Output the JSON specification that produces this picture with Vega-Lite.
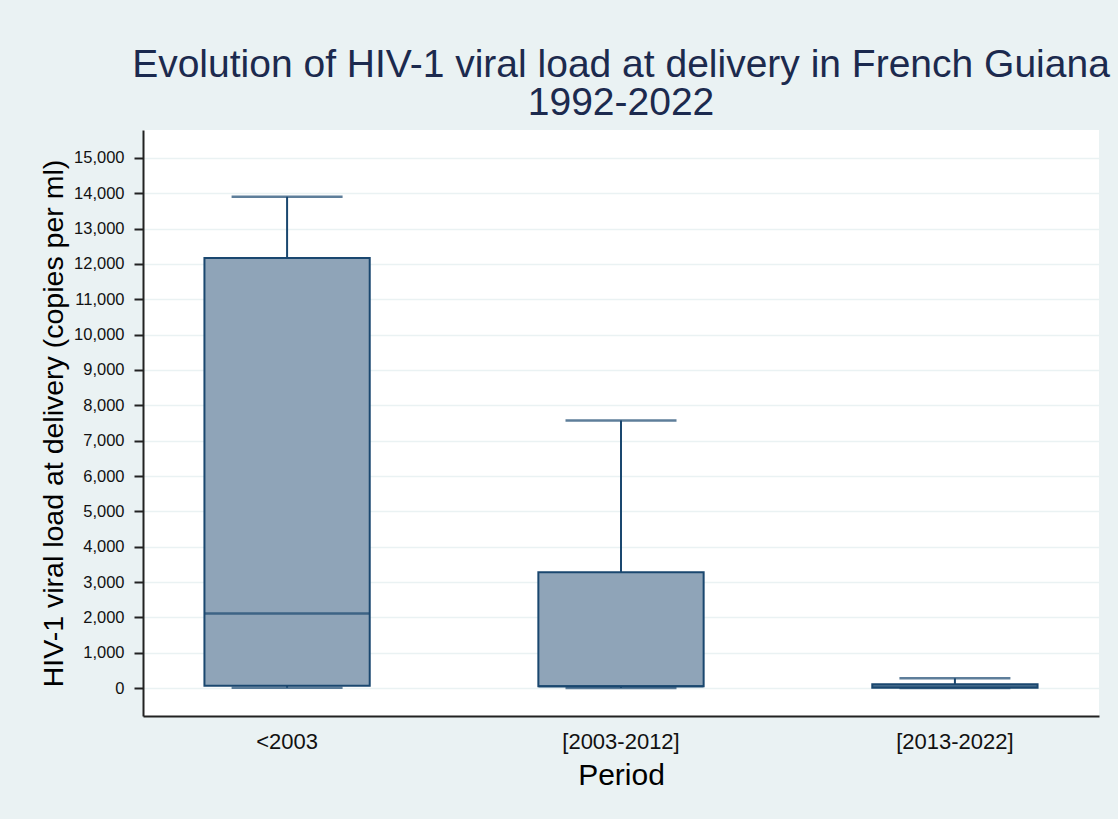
{
  "$schema": "https://vega.github.io/schema/vega-lite/v6.json",
  "width": 956,
  "height": 586,
  "autosize": {"type": "none"},
  "padding": {"left": 143, "top": 130, "right": 19, "bottom": 103},
  "background": "#EAF2F3",
  "config": {
    "view": {"fill": "white", "stroke": null},
    "font": "Liberation Sans",
    "axisY": {
      "values": [0, 1000, 2000, 3000, 4000, 5000, 6000, 7000, 8000, 9000, 10000, 11000, 12000, 13000, 14000, 15000],
      "labelFontSize": 16.5,
      "labelColor": "#111111",
      "tickSize": 9,
      "tickColor": "#222222",
      "tickWidth": 2,
      "domainColor": "#222222",
      "domainWidth": 2,
      "gridColor": "#EAF2F3",
      "gridWidth": 1.5,
      "labelPadding": 10,
      "titleFontSize": 28.5,
      "titleFontWeight": "normal",
      "titleColor": "#000000",
      "titlePadding": 5
    },
    "axisX": {
      "labelAngle": 0,
      "labelFontSize": 22,
      "labelColor": "#111111",
      "ticks": false,
      "labelPadding": 15,
      "domainColor": "#222222",
      "domainWidth": 2,
      "grid": false,
      "titleFontSize": 30,
      "titleFontWeight": "normal",
      "titleColor": "#000000",
      "titlePadding": 8
    }
  },
  "title": {
    "text": ["Evolution of HIV-1 viral load at delivery in French Guiana", "1992-2022"],
    "fontSize": 39,
    "fontWeight": "normal",
    "color": "#1c2a4e",
    "anchor": "middle",
    "offset": 7,
    "lineHeight": 38
  },
  "data": {
    "values": [
      {"period": "<2003", "lower": 10, "q1": 65, "median": 2110, "q3": 12170, "upper": 13900},
      {"period": "[2003-2012]", "lower": 0, "q1": 50, "median": 50, "q3": 3275, "upper": 7570},
      {"period": "[2013-2022]", "lower": 0, "q1": 5, "median": 40, "q3": 105, "upper": 275}
    ]
  },
  "encoding": {
    "x": {
      "field": "period",
      "type": "nominal",
      "sort": ["<2003", "[2003-2012]", "[2013-2022]"],
      "scale": {"type": "band", "paddingInner": 0.505, "paddingOuter": 0.184},
      "title": "Period"
    }
  },
  "layer": [
    {
      "mark": {"type": "rule", "color": "#1a476f", "strokeWidth": 2},
      "encoding": {
        "y": {"field": "lower", "type": "quantitative", "scale": {"domain": [-792, 15792], "nice": false, "zero": false}, "title": "HIV-1 viral load at delivery (copies per ml)", "axis": {"format": ",d"}},
        "y2": {"field": "upper"}
      }
    },
    {
      "mark": {"type": "tick", "color": "#1a476f", "size": 111, "thickness": 2.5},
      "encoding": {
        "y": {"field": "upper", "type": "quantitative", "title": "HIV-1 viral load at delivery (copies per ml)"}
      }
    },
    {
      "mark": {"type": "tick", "color": "#1a476f", "size": 111, "thickness": 2.5},
      "encoding": {
        "y": {"field": "lower", "type": "quantitative", "title": "HIV-1 viral load at delivery (copies per ml)"}
      }
    },
    {
      "mark": {"type": "bar", "fill": "#8FA4B8", "stroke": "#1a476f", "strokeWidth": 2, "opacity": 1},
      "encoding": {
        "y": {"field": "q3", "type": "quantitative", "title": "HIV-1 viral load at delivery (copies per ml)"},
        "y2": {"field": "q1"}
      }
    },
    {
      "mark": {"type": "tick", "color": "#1a476f", "size": 165, "thickness": 2.5},
      "encoding": {
        "y": {"field": "median", "type": "quantitative", "title": "HIV-1 viral load at delivery (copies per ml)"}
      }
    }
  ]
}
